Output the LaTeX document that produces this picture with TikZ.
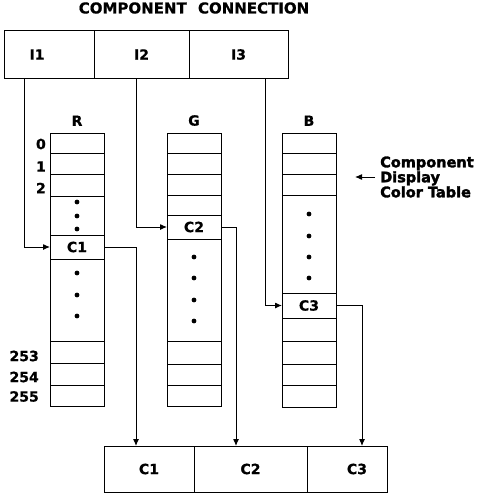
\documentclass[tikz,border=0pt]{standalone}
\usepackage{fontspec}
\setmainfont{DejaVu Sans}[BoldFeatures={FakeBold=0.8}]
\newfontfamily\heavyfont{DejaVu Sans Bold}[FakeBold=2.2]
\usetikzlibrary{arrows.meta,positioning}
\tikzset{
  cell/.style ={draw,line width=1pt,minimum width=54,inner sep=0pt,outer sep=0pt,
                anchor=north west,font=\fontsize{14}{16}\selectfont\bfseries},
  slot/.style ={cell,minimum height=47},
  lbl/.style  ={font=\fontsize{14}{16}\selectfont\bfseries,inner sep=0pt},
  note/.style ={font=\fontsize{14.5}{15}\selectfont\heavyfont,align=left,inner sep=0pt},
  sig/.style  ={-{Latex[length=7pt,width=6pt]},line width=1pt},
  dot/.style  ={fill=black},
}
\begin{document}
\begin{tikzpicture}[x=1pt,y=-1pt]
\useasboundingbox (0,0) rectangle (480,495);
\node[lbl,font=\fontsize{15}{17}\selectfont\bfseries] (title) at (194,8) {COMPONENT\hspace{6pt} CONNECTION};

% component connection register
\node[slot,minimum width=90] (i1) at (4,31)   {I1\kern24pt};
\node[slot,minimum width=95] (i2) at (94,31)  {I2};
\node[slot,minimum width=99] (i3) at (189,31) {I3};

% the three color tables, cell by cell (top/bottom/text)
\foreach \t/\b/\s [count=\i] in {133/153/{},153/174/{},174/196/{},196/235/{},235/259/C1,
                                 259/341/{},341/363/{},363/385/{},385/406/{}}
  \node[cell,minimum height=\b-\t] (r\i) at (50,\t) {\s};
\foreach \t/\b/\s [count=\i] in {133/153/{},153/174/{},174/195/{},195/215/{},215/239/C2,
                                 239/341/{},341/364/{},364/385/{},385/406/{}}
  \node[cell,minimum height=\b-\t] (g\i) at (167,\t) {\s};
\foreach \t/\b/\s [count=\i] in {133/153/{},153/174/{},174/195/{},195/293/{},293/318/C3,
                                 318/341/{},341/364/{},364/385/{},385/407/{}}
  \node[cell,minimum height=\b-\t] (b\i) at (282,\t) {\s};

\node[lbl,above=7pt of r1] (hR) {R};
\node[lbl,above=7pt of g1] (hG) {G};
\node[lbl,above=7pt of b1] (hB) {B};

\node[lbl,anchor=east] (n0)   at ([xshift=-4pt,yshift=-1pt]r1.west) {0};
\node[lbl,anchor=east] (n1)   at ([xshift=-4pt,yshift=-3pt]r2.west) {1};
\node[lbl,anchor=east] (n2)   at ([xshift=-4pt,yshift=-3pt]r3.west) {2};
\node[lbl,anchor=east] (n253) at ([xshift=-11pt,yshift=-4pt]r7.west) {253};
\node[lbl,anchor=east] (n254) at ([xshift=-11pt,yshift=-3pt]r8.west) {254};
\node[lbl,anchor=east] (n255) at ([xshift=-11pt,yshift=-1pt]r9.west) {255};

% elided entries
\foreach \y in {202,216,229,273,295,316} \fill[dot] (77,\y) circle[radius=2.4pt];
\foreach \y in {257,278,300,321}         \fill[dot] (194,\y) circle[radius=2.4pt];
\foreach \y in {214,236,257,278}         \fill[dot] (309,\y) circle[radius=2.4pt];

\node[note,anchor=west] (ctab) at (380,177) {Component\\Display\\Color Table};
\draw[sig] ([xshift=-5pt]ctab.west) -- ++(-20,0);

% output register
\node[slot,minimum width=90,minimum height=46]  (o1) at (104,446) {C1};
\node[slot,minimum width=113,minimum height=46] (o2) at (194,446) {C2};
\node[slot,minimum width=80,minimum height=46]  (o3) at (307,446) {\hspace{20pt}C3};

\coordinate (tapA) at (24,0);
\coordinate (tapB) at (136,0);
\coordinate (tapC) at (265,0);
\coordinate (dropR) at (136,0);
\coordinate (dropG) at (236,0);
\coordinate (dropB) at (362,0);
\draw[sig] (i1.south -| tapA) |- (r5.west);
\draw[sig] (i2.south -| tapB) |- (g5.west);
\draw[sig] (i3.south -| tapC) |- (b5.west);
\draw[sig] (r5.east) -| (o1.north -| dropR);
\draw[sig] (g5.east) -| (o2.north -| dropG);
\draw[sig] (b5.east) -| (o3.north -| dropB);
\end{tikzpicture}
\end{document}
